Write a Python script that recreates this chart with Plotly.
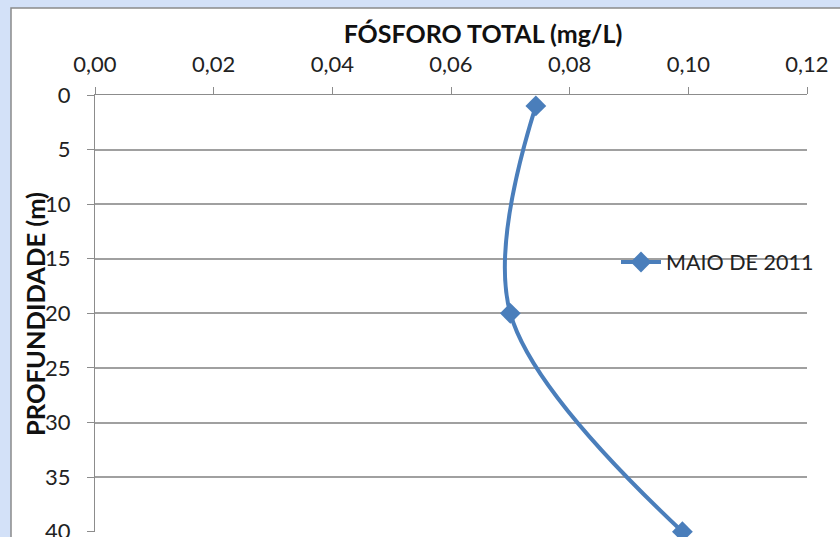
import plotly.graph_objects as go

# Data
depth_m = [1, 20, 40]
fosforo_mg_l = [0.0743, 0.0700, 0.0990]
series_name = "MAIO DE 2011"
x_ticks = [0.00, 0.02, 0.04, 0.06, 0.08, 0.10, 0.12]
y_ticks = [0, 5, 10, 15, 20, 25, 30, 35, 40]

W, H = 840, 537
L, R, T, B = 95, 33, 95, 5
pw, ph = W - L - R, H - T - B

def px_x(p):
    return (p - L) / pw

def px_y(p):
    return (H - B - p) / ph

FONT = "Lato, 'Open Sans', sans-serif"
BLUE = "#4A7EBB"

fig = go.Figure()
fig.add_trace(go.Scatter(
    x=fosforo_mg_l, y=depth_m, mode="lines+markers", name=series_name,
    line=dict(color=BLUE, width=4, shape="spline", smoothing=1.0),
    marker=dict(symbol="diamond", size=16, color=BLUE),
    cliponaxis=False,
))

fig.update_layout(
    width=W, height=H,
    margin=dict(l=L, r=R, t=T, b=B, autoexpand=False),
    paper_bgcolor="#D3E1F8",
    plot_bgcolor="white",
    font=dict(family=FONT, size=22, color="#222222"),
    title=dict(text="<b>FÓSFORO TOTAL (mg/L)</b>", x=483 / W, xanchor="center",
               y=1 - 34 / H, yanchor="middle", yref="container",
               font=dict(family=FONT, size=25, color="#111111")),
    showlegend=True,
    legend=dict(x=px_x(616), y=px_y(262), xanchor="left", yanchor="middle",
                bgcolor="rgba(0,0,0,0)", font=dict(family=FONT, size=21.5, color="#222222"),
                itemwidth=40),
    xaxis=dict(side="top", range=[0, 0.12], tickvals=x_ticks, tickformat=".2f",
               showgrid=False, zeroline=False, showline=True, linecolor="#8C8C8C", linewidth=1,
               ticks="outside", ticklen=7, tickcolor="#8C8C8C", ticklabelstandoff=6,
               tickfont=dict(family=FONT, size=22, color="#222222")),
    yaxis=dict(range=[40.03, 0], tickvals=y_ticks, showgrid=True, gridcolor="#A0A0A0", gridwidth=1.5,
               zeroline=False, showline=True, linecolor="#8C8C8C", linewidth=1,
               ticks="outside", ticklen=7, tickcolor="#8C8C8C", ticklabelstandoff=12,
               ticklabeloverflow="allow",
               tickfont=dict(family=FONT, size=22, color="#222222")),
    separators=",.",
    shapes=[dict(type="rect", xref="paper", yref="paper", layer="below",
                 x0=px_x(11), x1=px_x(850), y0=px_y(8), y1=px_y(560),
                 fillcolor="white", line=dict(color="#8A8A8A", width=1.5))],
    annotations=[dict(text="<b>PROFUNDIDADE (m)</b>", textangle=-90, xref="paper", yref="paper",
                      x=px_x(35), y=px_y(314), xanchor="center", yanchor="middle", showarrow=False,
                      font=dict(family=FONT, size=25.5, color="#111111"))],
)

fig.write_html("out.html")
